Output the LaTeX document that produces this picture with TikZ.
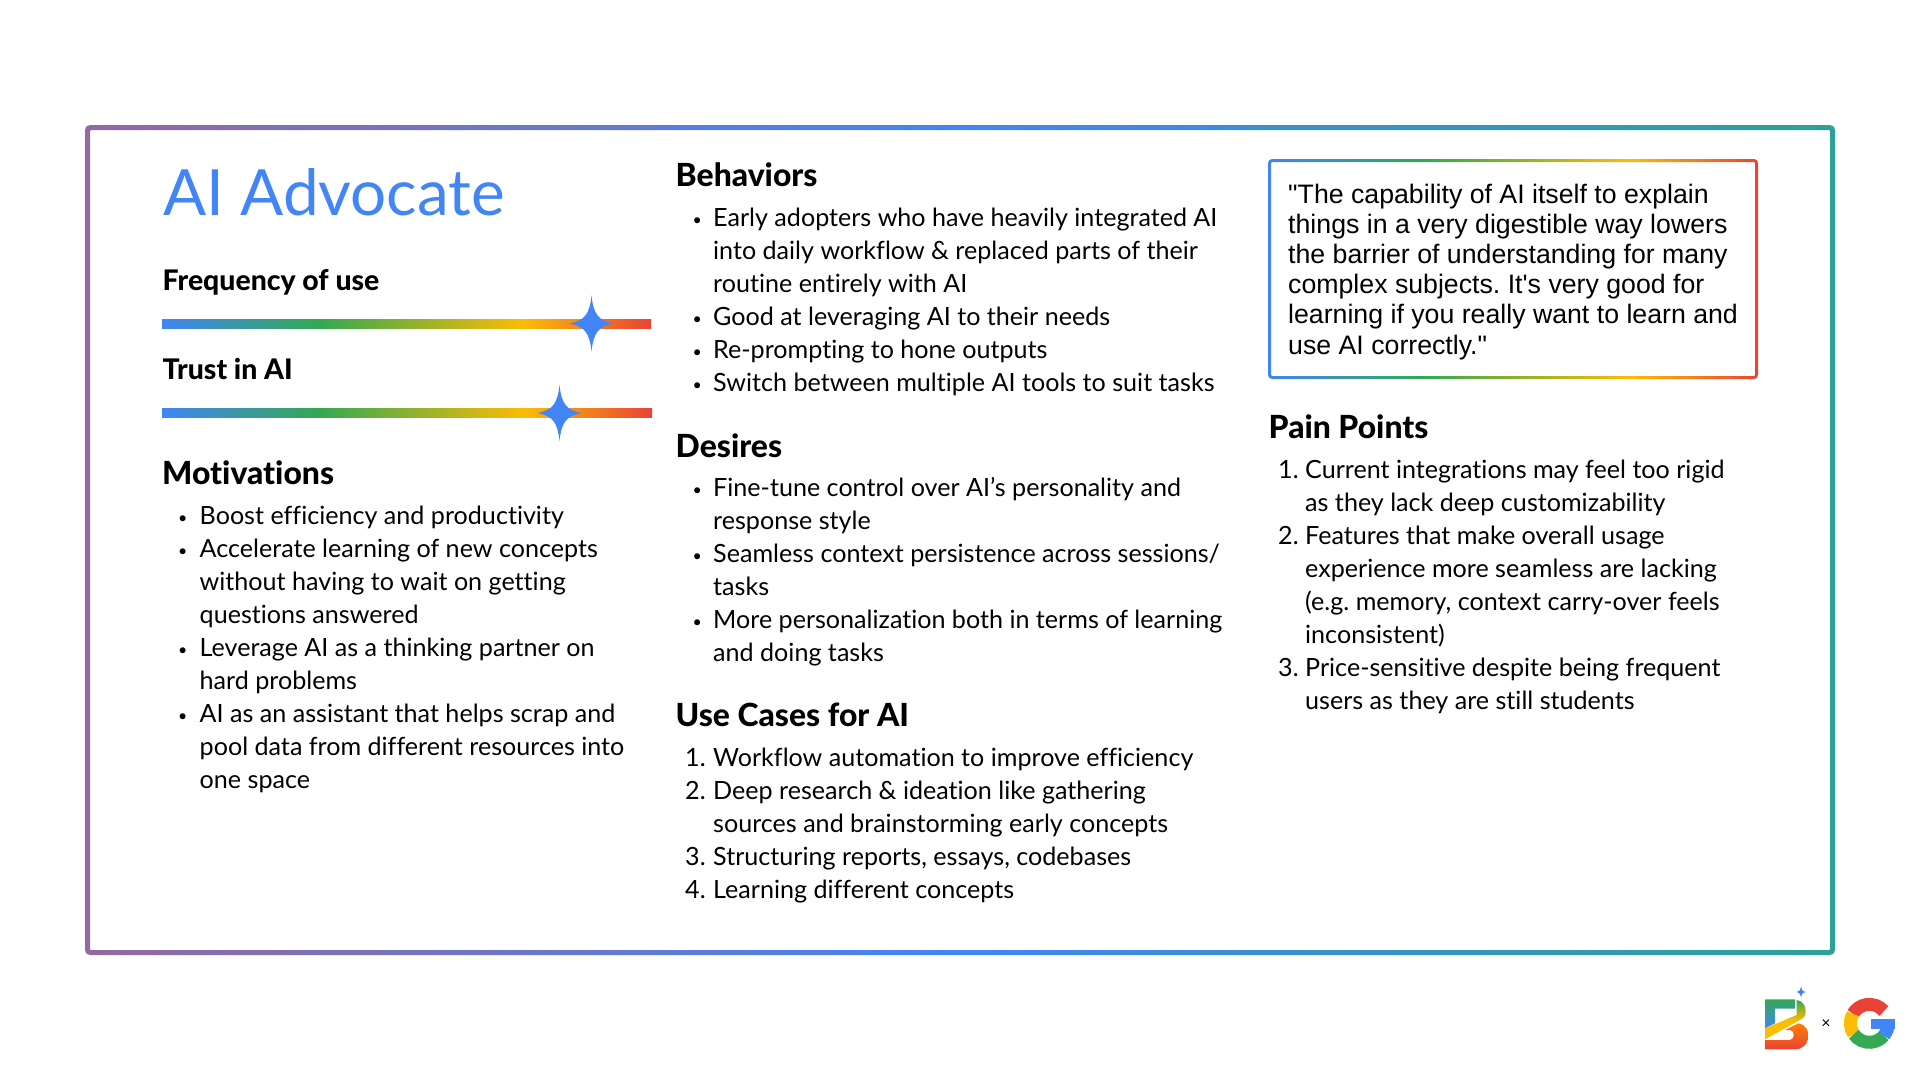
\documentclass[tikz,border=0pt]{standalone}
\usepackage{fontspec}
\setmainfont[Ligatures=CommonOff, BoldFont={Lato Heavy}]{Lato}
\newfontfamily\quotefont{Liberation Sans}
\usepackage{tikz}
\frenchspacing

\definecolor{gblue}{HTML}{4285F4}
\definecolor{ggreen}{HTML}{34A853}
\definecolor{gyellow}{HTML}{FBBC04}
\definecolor{gred}{HTML}{EA4335}
\definecolor{fpurple}{HTML}{9468A0}
\definecolor{fteal}{HTML}{2BA197}

\pgfdeclarehorizontalshading{rainbow}{100bp}{color(0bp)=(gblue); color(25bp)=(gblue); color(41bp)=(ggreen); color(62bp)=(gyellow); color(75bp)=(gred); color(100bp)=(gred)}
\pgfdeclarehorizontalshading{framegrad}{100bp}{color(0bp)=(fpurple); color(25bp)=(fpurple); color(50bp)=(gblue); color(75bp)=(fteal); color(100bp)=(fteal)}

\tikzset{
    heading/.style={anchor=base west, inner sep=0pt, font=\fontsize{32}{38}\selectfont\bfseries},
    subheading/.style={anchor=base west, inner sep=0pt, font=\fontsize{28.5}{34}\selectfont\bfseries},
    bodyline/.style={anchor=base west, inner sep=0pt, font=\fontsize{25.2}{33}\selectfont},
    quoteline/.style={anchor=base west, inner sep=0pt, font=\fontsize{26.8}{30}\quotefont},
}

\newcommand{\dotmk}{\raisebox{1bp}{\fontsize{16}{16}\selectfont •}}
% marker and text of each line of a list: name, marker x, text x, first baseline, lines
\newcommand{\listlines}[5]{
    \foreach \mk/\tx [count=\i from 0] in {#5} {
        \node[bodyline] (#1m\i) at (#2, {#4+33.06*\i}) {\mk};
        \node[bodyline] (#1t\i) at (#3, {#4+33.06*\i}) {\tx};
    }
}
\newcommand{\sparkle}[2]{
    \fill[gblue, shift={#1}, scale=#2] (0,-28) .. controls (2,-9) and (7,-3) .. (22,0)
        .. controls (7,3) and (2,9) .. (0,28) .. controls (-2,9) and (-7,3) .. (-22,0)
        .. controls (-7,-3) and (-2,-9) .. (0,-28) -- cycle;
}

\begin{document}
\begin{tikzpicture}[x=1bp, y=-1bp]
    \useasboundingbox (0,0) rectangle (1920,1080);

    % The outer frame
    \shade[shading=framegrad, even odd rule]
        [rounded corners=5] (85,125) rectangle (1835,955)
        [rounded corners=1] (90,130) rectangle (1830,950);

    % Left column
    \node[font=\fontsize{64}{72}\selectfont, text=gblue, anchor=base west, inner sep=0pt] (title) at (163,215) {AI Advocate};

    \node[subheading] (freq) at (162.5,290) {Frequency of use};
    \shade[shading=rainbow] (162,319) rectangle (651,328);
    \sparkle{(591.5,323.5)}{1}

    \node[subheading] (trust) at (162.5,379) {Trust in AI};
    \shade[shading=rainbow] (162,408.5) rectangle (652,417.5);
    \sparkle{(559.5,413)}{1}

    \node[heading] (motiv) at (162,484.5) {Motivations};
    \listlines{mot}{178}{199.5}{524.5}{
        {\dotmk}/{Boost efficiency and productivity},
        {\dotmk}/{Accelerate learning of new concepts},
        {}/{without having to wait on getting},
        {}/{questions answered},
        {\dotmk}/{Leverage AI as a thinking partner on},
        {}/{hard problems},
        {\dotmk}/{AI as an assistant that helps scrap and},
        {}/{pool data from different resources into},
        {}/{one space}}

    % Middle column
    \node[heading] (behav) at (675.5,186) {Behaviors};
    \listlines{beh}{692.5}{713}{226.5}{
        {\dotmk}/{Early adopters who have heavily integrated AI},
        {}/{into daily workflow \& replaced parts of their},
        {}/{routine entirely with AI},
        {\dotmk}/{Good at leveraging AI to their needs},
        {\dotmk}/{Re-prompting to hone outputs},
        {\dotmk}/{Switch between multiple AI tools to suit tasks}}

    \node[heading] (desir) at (675.5,457) {Desires};
    \listlines{des}{692.5}{713}{496.5}{
        {\dotmk}/{Fine-tune control over AI’s personality and},
        {}/{response style},
        {\dotmk}/{Seamless context persistence across sessions/},
        {}/{tasks},
        {\dotmk}/{More personalization both in terms of learning},
        {}/{and doing tasks}}

    \node[heading] (usec) at (675.5,726) {Use Cases for AI};
    \listlines{use}{685}{713}{766.5}{
        {1.}/{Workflow automation to improve efficiency},
        {2.}/{Deep research \& ideation like gathering},
        {}/{sources and brainstorming early concepts},
        {3.}/{Structuring reports, essays, codebases},
        {4.}/{Learning different concepts}}

    % Right column, the quote
    \shade[shading=rainbow, even odd rule]
        [rounded corners=4] (1268,159) rectangle (1758,379)
        [rounded corners=1] (1271,162) rectangle (1755,376);
    \foreach \tx [count=\i from 0] in {
        "The capability of AI itself to explain,
        things in a very digestible way lowers,
        the barrier of understanding for many,
        complex subjects. It's very good for,
        learning if you really want to learn and,
        use AI correctly."} {
        \node[quoteline] (quote\i) at (1288, {203.5+30.1*\i}) {\tx};
    }

    \node[heading] (pain) at (1268.5,438.5) {Pain Points};
    \listlines{pain}{1278}{1305}{478.5}{
        {1.}/{Current integrations may feel too rigid},
        {}/{as they lack deep customizability},
        {2.}/{Features that make overall usage},
        {}/{experience more seamless are lacking},
        {}/{(e.g. memory, context carry-over feels},
        {}/{inconsistent)},
        {3.}/{Price-sensitive despite being frequent},
        {}/{users as they are still students}}

    % The logos at the corner
    \begin{scope}[shift={(1740,960)}, scale=1/3]
        \shade[top color=ggreen, bottom color=gblue] (75,118) -- (165,118) -- (165,146) -- (105,146) -- (105,190) -- (75,205) -- cycle;
        \shade[top color=orange, bottom color=gred] (75,240) -- (150,240) .. controls (165,238) and (165,212) .. (150,210) -- (135,210) -- (175,190)
            .. controls (200,195) and (205,215) .. (205,225) .. controls (205,250) and (190,268) .. (165,268) -- (75,268) -- cycle;
        \shade[top color=ggreen, bottom color=gyellow, middle color=gyellow] (75,205) -- (170,165) -- (170,120) .. controls (190,122) and (197,140) .. (197,155)
            .. controls (197,170) and (190,175) .. (180,180) -- (75,238) -- cycle;
        \node[font=\fontsize{16}{16}\selectfont, inner sep=0pt] (times) at (258,193) {×};
        \draw[line width=13, gred] (388,190) ++(-40:57) arc (-40:-150:57);
        \draw[line width=13, gyellow] (388,190) ++(-150:57) arc (-150:-215:57);
        \draw[line width=13, ggreen] (388,190) ++(-215:57) arc (-215:-320:57);
        \draw[line width=13, gblue] (388,190) ++(-320:57) arc (-320:-360:57);
        \fill[gblue] (392,178) rectangle (465,208);
    \end{scope}
    \sparkle{(1801,992)}{0.22}
\end{tikzpicture}
\end{document}
